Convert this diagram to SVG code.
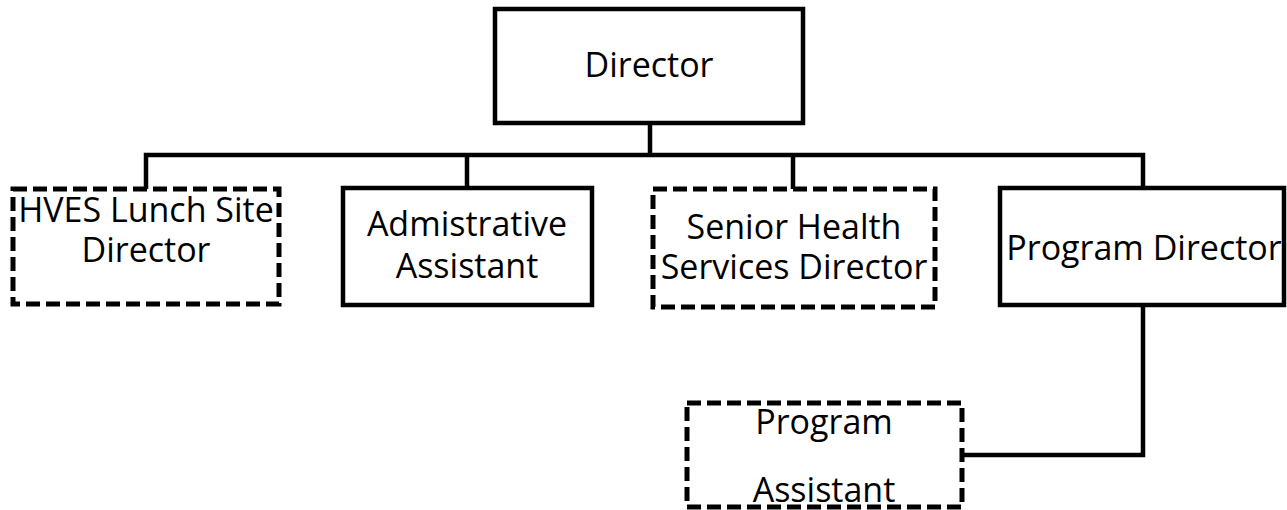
<svg xmlns="http://www.w3.org/2000/svg" width="1287" height="510" viewBox="0 0 1287 510">
<style>
.box{fill:#fff;stroke:#000;stroke-width:4.5}
.dash{stroke-width:5;stroke-dasharray:14 6}
.lbl{font-family:"Open Sans","Liberation Sans",sans-serif;font-size:34px;fill:#000;text-anchor:middle}
.con{fill:none;stroke:#000;stroke-width:4.5;stroke-linejoin:miter}
</style>
<rect width="1287" height="510" fill="#fff"/>
<g id="connectors">
<path class="con" d="M650 123 V155"/>
<path class="con" d="M146 189 V155 H1143 V189"/>
<path class="con" d="M467 155 V189"/>
<path class="con" d="M793 155 V189"/>
<path class="con" d="M1143 305 V455 H962"/>
</g>
<g id="director">
<rect class="box" x="495" y="9" width="308" height="114"/>
<text class="lbl" x="649" y="77">Director</text>
</g>
<g id="hves">
<rect class="box dash" x="13" y="189" width="266" height="115"/>
<text class="lbl" x="146" y="222">HVES Lunch Site</text>
<text class="lbl" x="146" y="262">Director</text>
</g>
<g id="admin">
<rect class="box" x="343" y="188" width="249" height="117"/>
<text class="lbl" x="467" y="236">Admistrative</text>
<text class="lbl" x="467" y="278">Assistant</text>
</g>
<g id="senior">
<rect class="box dash" x="653" y="189" width="282" height="118"/>
<text class="lbl" x="794" y="239">Senior Health</text>
<text class="lbl" x="794" y="279">Services Director</text>
</g>
<g id="program-director">
<rect class="box" x="1000" y="188" width="284" height="117"/>
<text class="lbl" x="1144" y="260">Program Director</text>
</g>
<g id="program-assistant">
<rect class="box dash" x="687" y="403" width="275" height="104"/>
<text class="lbl" x="824" y="434">Program</text>
<text class="lbl" x="824" y="502">Assistant</text>
</g>
</svg>
